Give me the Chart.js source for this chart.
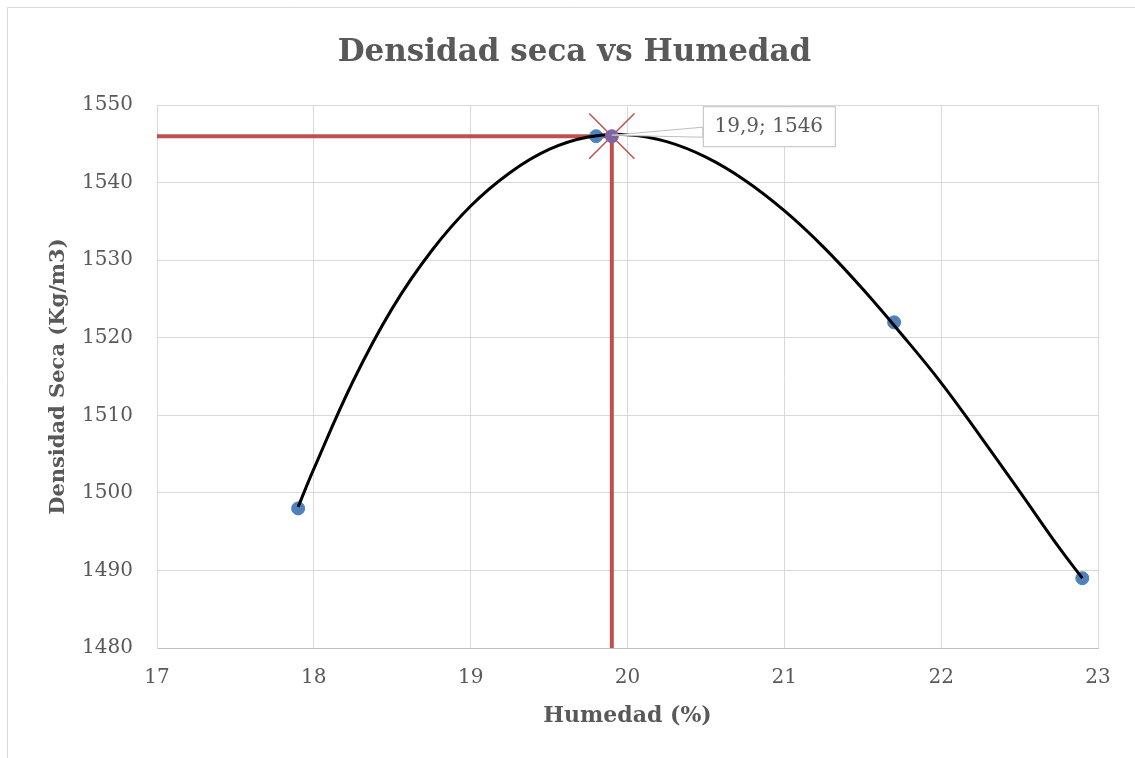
<!DOCTYPE html>
<html lang="es">
<head>
<meta charset="UTF-8">
<title>Densidad seca vs Humedad</title>
<script src="https://cdn.jsdelivr.net/npm/chart.js"></script>
<style>
  html, body { margin: 0; padding: 0; background: #fff; }
</style>
</head>
<body>
<canvas id="proctor" width="1135" height="758"></canvas>

<script>
// Ensayo Proctor: humedad (%) y densidad seca (kg/m3)
const humedad = [17.9, 19.8, 21.7, 22.9];
const densidad = [1498, 1546, 1522, 1489];

// Punto óptimo
const humedadOpt = 19.9;
const densidadOpt = 1546;

// Curva de ajuste (polinómica)
const curvaX = [17.9, 18.0, 18.25, 18.5, 18.75, 19.0, 19.25, 19.5, 19.75, 20.0, 20.25, 20.5, 20.75, 21.0, 21.25, 21.5, 21.75, 22.0, 22.25, 22.5, 22.75, 22.9];
const curvaY = [1498.2, 1503.1, 1514.4, 1523.8, 1531.2, 1537.0, 1541.3, 1544.3, 1545.9, 1546.2, 1545.3, 1543.3, 1540.3, 1536.4, 1531.7, 1526.3, 1520.4, 1514.2, 1507.3, 1500.2, 1493.0, 1489.0];

// Ejes
const xMin = 17, xMax = 23, xPaso = 1;
const yMin = 1480, yMax = 1550, yPaso = 10;

const gris = '#595959';
const rojo = '#C0504D';

Chart.defaults.font.family = "'DejaVu Serif', serif";
Chart.defaults.color = gris;

const toXY = (xs, ys) => xs.map((x, i) => ({ x: x, y: ys[i] }));

// marco del gráfico
const marco = {
    id: 'marco',
    beforeDraw(chart) {
        const c = chart.ctx;
        c.save();
        c.fillStyle = '#fff';
        c.fillRect(0, 0, chart.width, chart.height);
        c.strokeStyle = '#d9d9d9';
        c.lineWidth = 1;
        c.beginPath();
        c.moveTo(7.5, chart.height);
        c.lineTo(7.5, 7.5);
        c.lineTo(chart.width, 7.5);
        c.stroke();
        c.restore();
    }
};

// etiqueta del punto óptimo
const etiqueta = {
    id: 'etiqueta',
    afterDatasetsDraw(chart) {
        const c = chart.ctx;
        const px = chart.scales.x.getPixelForValue(humedadOpt);
        const py = chart.scales.y.getPixelForValue(densidadOpt);
        const bx = px + 91, by = py - 30, bw = 132, bh = 40;
        c.save();
        c.fillStyle = '#fff';
        c.strokeStyle = '#bfbfbf';
        c.lineWidth = 1;
        c.beginPath();
        c.moveTo(px, py - 1);
        c.lineTo(bx, py - 9);
        c.lineTo(bx, py + 1);
        c.closePath();
        c.fill();
        c.stroke();
        c.fillRect(bx + 0.5, by + 0.5, bw, bh);
        c.strokeRect(bx + 0.5, by + 0.5, bw, bh);
        c.fillStyle = gris;
        c.font = "20px 'DejaVu Serif'";
        c.textAlign = 'center';
        c.textBaseline = 'middle';
        c.fillText(humedadOpt.toString().replace('.', ',') + '; ' + densidadOpt, bx + bw / 2, by + bh / 2 + 1);
        c.restore();
    }
};

new Chart(document.getElementById('proctor'), {
    type: 'scatter',
    data: {
        datasets: [
            {
                // punto óptimo
                data: [{ x: humedadOpt, y: densidadOpt }],
                backgroundColor: '#8064A2',
                borderColor: '#8064A2',
                pointRadius: 6.5,
                order: 0
            },
            {
                data: [{ x: humedadOpt, y: densidadOpt }],
                pointStyle: 'crossRot',
                pointRadius: 32,
                borderColor: rojo,
                borderWidth: 1.5,
                order: 1
            },
            {
                // curva de ajuste
                data: toXY(curvaX, curvaY),
                showLine: true,
                borderColor: '#000',
                borderWidth: 3,
                pointRadius: 0,
                tension: 0.4,
                order: 2
            },
            {
                // ensayos
                data: toXY(humedad, densidad),
                backgroundColor: '#4F81BD',
                borderColor: '#4F81BD',
                pointRadius: 6.5,
                order: 3
            },
            {
                // línea horizontal del óptimo
                data: [{ x: xMin, y: densidadOpt }, { x: humedadOpt, y: densidadOpt }],
                showLine: true,
                borderColor: rojo,
                borderWidth: 4,
                pointRadius: 0,
                order: 4
            },
            {
                // línea vertical del óptimo
                data: [{ x: humedadOpt, y: densidadOpt }, { x: humedadOpt, y: yMin }],
                showLine: true,
                borderColor: rojo,
                borderWidth: 4,
                pointRadius: 0,
                order: 5
            }
        ]
    },
    options: {
        responsive: false,
        animation: false,
        layout: { padding: { left: 14, right: 0, top: 0, bottom: 0 } },
        plugins: {
            legend: { display: false },
            tooltip: { enabled: false },
            title: {
                display: true,
                text: 'Densidad seca vs Humedad',
                color: gris,
                font: { size: 31, weight: 'bold' },
                padding: { top: 34, bottom: 34 }
            }
        },
        scales: {
            x: {
                type: 'linear',
                min: xMin, max: xMax,
                ticks: { stepSize: xPaso, padding: 18, font: { size: 20 }, color: gris },
                grid: { color: '#d9d9d9', drawTicks: false },
                border: { color: '#bfbfbf' },
                title: {
                    display: true,
                    text: 'Humedad (%)',
                    color: gris,
                    font: { size: 22, weight: 'bold' },
                    padding: { top: 0, bottom: 29 }
                },
                afterFit(s) { s.height = 110; }
            },
            y: {
                min: yMin, max: yMax,
                ticks: {
                    stepSize: yPaso, padding: 24, font: { size: 20 }, color: gris,
                    callback: (v) => String(v)
                },
                grid: { color: '#d9d9d9', drawTicks: false },
                border: { color: '#d9d9d9' },
                title: {
                    display: true,
                    text: 'Densidad Seca (Kg/m3)',
                    color: gris,
                    font: { size: 21, weight: 'bold' },
                    padding: { top: 32, bottom: 0 }
                },
                afterFit(s) { s.width = 143; }
            },
            derecha: {
                position: 'right',
                display: true,
                ticks: { display: false },
                grid: { display: false },
                border: { display: false },
                afterFit(s) { s.width = 37; }
            }
        }
    },
    plugins: [marco, etiqueta]
});
</script>
</body>
</html>
